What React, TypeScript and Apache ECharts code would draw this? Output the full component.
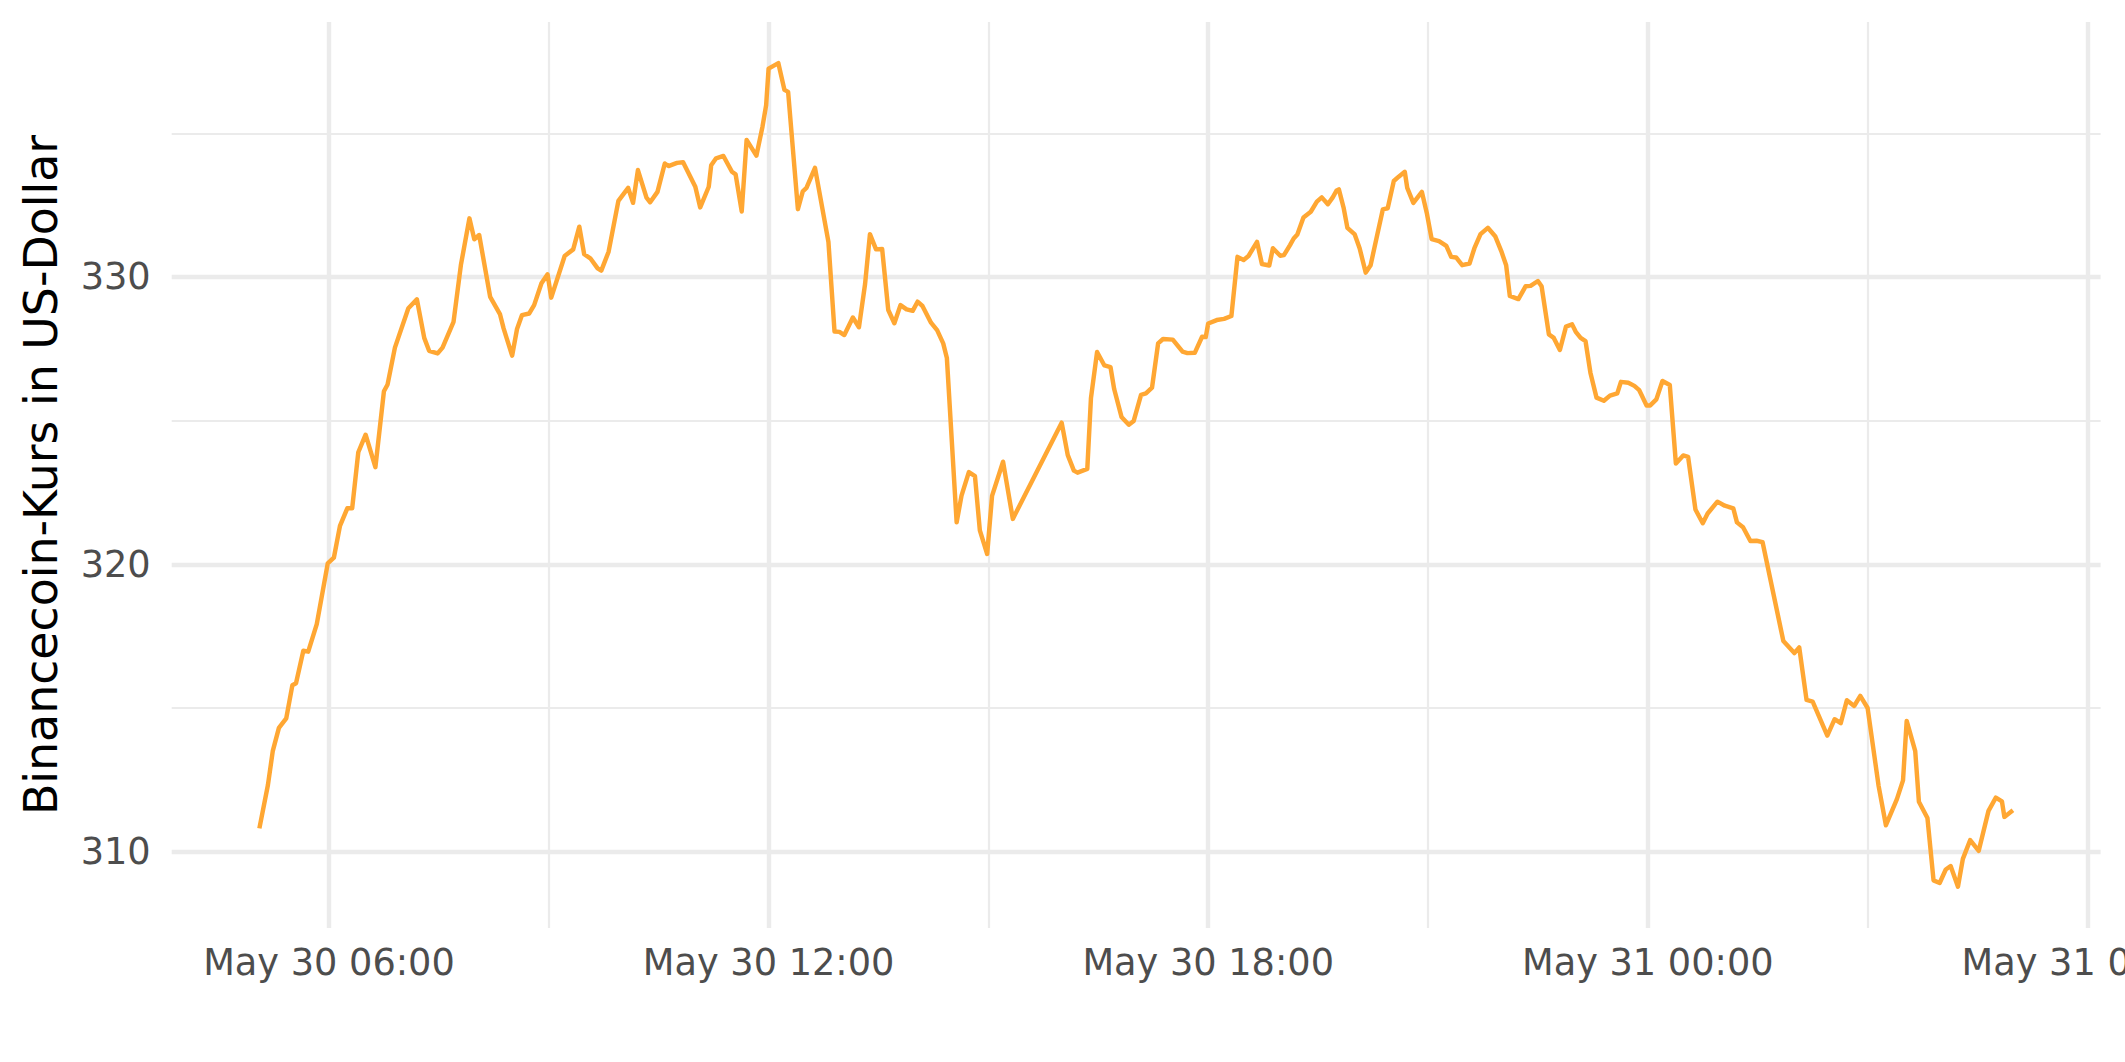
import React, { useEffect, useRef } from "react";
import * as echarts from "echarts";

// Binancecoin price, 5-minute-ish samples (UTC)
const times = [
  "05-30 05:03", "05-30 05:10", "05-30 05:14", "05-30 05:19", "05-30 05:25", "05-30 05:30", "05-30 05:33", "05-30 05:39",
  "05-30 05:43", "05-30 05:50", "05-30 05:59", "05-30 06:04", "05-30 06:09", "05-30 06:15", "05-30 06:19", "05-30 06:24",
  "05-30 06:30", "05-30 06:38", "05-30 06:45", "05-30 06:48", "05-30 06:54", "05-30 07:05", "05-30 07:12", "05-30 07:18",
  "05-30 07:22", "05-30 07:29", "05-30 07:33", "05-30 07:42", "05-30 07:48", "05-30 07:55", "05-30 07:59", "05-30 08:03",
  "05-30 08:12", "05-30 08:20", "05-30 08:23", "05-30 08:30", "05-30 08:34", "05-30 08:38", "05-30 08:44", "05-30 08:48",
  "05-30 08:54", "05-30 08:59", "05-30 09:02", "05-30 09:13", "05-30 09:20", "05-30 09:25", "05-30 09:29", "05-30 09:34",
  "05-30 09:40", "05-30 09:43", "05-30 09:49", "05-30 09:57", "05-30 10:05", "05-30 10:09", "05-30 10:13", "05-30 10:20",
  "05-30 10:23", "05-30 10:29", "05-30 10:35", "05-30 10:38", "05-30 10:45", "05-30 10:50", "05-30 11:00", "05-30 11:04",
  "05-30 11:11", "05-30 11:13", "05-30 11:17", "05-30 11:23", "05-30 11:30", "05-30 11:33", "05-30 11:38", "05-30 11:42",
  "05-30 11:50", "05-30 11:55", "05-30 11:58", "05-30 12:00", "05-30 12:08", "05-30 12:13", "05-30 12:16", "05-30 12:24",
  "05-30 12:28", "05-30 12:31", "05-30 12:38", "05-30 12:49", "05-30 12:54", "05-30 12:58", "05-30 13:02", "05-30 13:09",
  "05-30 13:14", "05-30 13:19", "05-30 13:23", "05-30 13:28", "05-30 13:33", "05-30 13:38", "05-30 13:43", "05-30 13:48",
  "05-30 13:53", "05-30 13:58", "05-30 14:02", "05-30 14:06", "05-30 14:13", "05-30 14:18", "05-30 14:23", "05-30 14:26",
  "05-30 14:34", "05-30 14:38", "05-30 14:44", "05-30 14:49", "05-30 14:53", "05-30 14:59", "05-30 15:03", "05-30 15:12",
  "05-30 15:20", "05-30 16:00", "05-30 16:05", "05-30 16:10", "05-30 16:13", "05-30 16:21", "05-30 16:24", "05-30 16:29",
  "05-30 16:35", "05-30 16:40", "05-30 16:43", "05-30 16:49", "05-30 16:55", "05-30 16:59", "05-30 17:05", "05-30 17:09",
  "05-30 17:14", "05-30 17:19", "05-30 17:23", "05-30 17:31", "05-30 17:39", "05-30 17:43", "05-30 17:49", "05-30 17:55",
  "05-30 17:58", "05-30 18:00", "05-30 18:07", "05-30 18:13", "05-30 18:19", "05-30 18:24", "05-30 18:29", "05-30 18:33",
  "05-30 18:40", "05-30 18:44", "05-30 18:50", "05-30 18:53", "05-30 18:59", "05-30 19:02", "05-30 19:07", "05-30 19:10",
  "05-30 19:13", "05-30 19:18", "05-30 19:24", "05-30 19:29", "05-30 19:33", "05-30 19:38", "05-30 19:42", "05-30 19:45",
  "05-30 19:47", "05-30 19:51", "05-30 19:54", "05-30 20:00", "05-30 20:04", "05-30 20:09", "05-30 20:13", "05-30 20:18",
  "05-30 20:23", "05-30 20:27", "05-30 20:32", "05-30 20:36", "05-30 20:41", "05-30 20:43", "05-30 20:48", "05-30 20:55",
  "05-30 20:59", "05-30 21:03", "05-30 21:09", "05-30 21:15", "05-30 21:19", "05-30 21:23", "05-30 21:28", "05-30 21:34",
  "05-30 21:38", "05-30 21:43", "05-30 21:49", "05-30 21:55", "05-30 22:00", "05-30 22:04", "05-30 22:07", "05-30 22:14",
  "05-30 22:20", "05-30 22:24", "05-30 22:30", "05-30 22:33", "05-30 22:39", "05-30 22:43", "05-30 22:48", "05-30 22:53",
  "05-30 22:58", "05-30 23:01", "05-30 23:05", "05-30 23:09", "05-30 23:13", "05-30 23:18", "05-30 23:24", "05-30 23:29",
  "05-30 23:35", "05-30 23:38", "05-30 23:44", "05-30 23:49", "05-30 23:53", "05-30 23:59", "05-31 00:02", "05-31 00:07",
  "05-31 00:12", "05-31 00:18", "05-31 00:23", "05-31 00:29", "05-31 00:33", "05-31 00:39", "05-31 00:45", "05-31 00:49",
  "05-31 00:57", "05-31 01:03", "05-31 01:10", "05-31 01:13", "05-31 01:18", "05-31 01:24", "05-31 01:29", "05-31 01:34",
  "05-31 01:51", "05-31 02:00", "05-31 02:04", "05-31 02:10", "05-31 02:15", "05-31 02:27", "05-31 02:33", "05-31 02:38",
  "05-31 02:43", "05-31 02:49", "05-31 02:54", "05-31 03:00", "05-31 03:09", "05-31 03:15", "05-31 03:24", "05-31 03:29",
  "05-31 03:32", "05-31 03:39", "05-31 03:42", "05-31 03:49", "05-31 03:54", "05-31 03:59", "05-31 04:04", "05-31 04:08",
  "05-31 04:14", "05-31 04:18", "05-31 04:24", "05-31 04:31", "05-31 04:39", "05-31 04:45", "05-31 04:50", "05-31 04:52",
  "05-31 04:59",
];

const prices = [
  310.81, 312.32, 313.51, 314.31, 314.64, 315.79, 315.86, 316.99,
  316.96, 317.92, 320.03, 320.23, 321.34, 321.95, 321.95, 323.9,
  324.51, 323.38, 326.02, 326.26, 327.54, 328.91, 329.22, 327.88,
  327.43, 327.34, 327.54, 328.44, 330.41, 332.04, 331.31, 331.46,
  329.31, 328.71, 328.21, 327.26, 328.19, 328.67, 328.73, 329.02,
  329.78, 330.09, 329.28, 330.73, 330.96, 331.75, 330.79, 330.65,
  330.3, 330.22, 330.88, 332.65, 333.1, 332.58, 333.72, 332.76,
  332.6, 332.96, 333.95, 333.86, 333.97, 333.99, 333.14, 332.42,
  333.14, 333.89, 334.13, 334.21, 333.66, 333.57, 332.28, 334.77,
  334.22, 335.23, 335.98, 337.25, 337.44, 336.51, 336.44, 332.36,
  332.98, 333.1, 333.8, 331.22, 328.1, 328.09, 327.98, 328.59,
  328.25, 329.75, 331.49, 330.96, 330.97, 328.85, 328.39, 329.02,
  328.87, 328.82, 329.14, 328.99, 328.41, 328.15, 327.69, 327.18,
  321.46, 322.39, 323.21, 323.07, 321.18, 320.36, 322.38, 323.57,
  321.58, 324.93, 323.8, 323.26, 323.19, 323.32, 325.79, 327.39,
  326.92, 326.86, 326.1, 325.13, 324.86, 324.99, 325.9, 325.95,
  326.15, 327.69, 327.84, 327.82, 327.4, 327.35, 327.36, 327.92,
  327.91, 328.38, 328.5, 328.54, 328.64, 330.7, 330.59, 330.73,
  331.22, 330.45, 330.4, 331.0, 330.74, 330.76, 331.11, 331.34,
  331.48, 332.07, 332.27, 332.62, 332.77, 332.53, 332.77, 333.0,
  333.05, 332.39, 331.71, 331.48, 331.0, 330.15, 330.41, 331.38,
  332.35, 332.39, 333.34, 333.49, 333.66, 333.1, 332.58, 332.96,
  332.23, 331.32, 331.25, 331.08, 330.7, 330.68, 330.41, 330.47,
  331.0, 331.49, 331.71, 331.42, 330.9, 330.41, 329.34, 329.23,
  329.68, 329.69, 329.86, 329.68, 328.0, 327.88, 327.46, 328.27,
  328.35, 328.09, 327.88, 327.77, 326.67, 325.8, 325.69, 325.87,
  325.95, 326.35, 326.32, 326.21, 326.06, 325.53, 325.53, 325.74,
  326.38, 326.24, 323.51, 323.79, 323.74, 321.91, 321.43, 321.77,
  322.18, 322.04, 321.95, 321.46, 321.29, 320.81, 320.82, 320.77,
  317.33, 316.91, 317.11, 315.28, 315.22, 314.04, 314.61, 314.47,
  315.27, 315.07, 315.42, 315.0, 312.29, 310.92, 311.83, 312.48,
  314.55, 313.5, 311.74, 311.17, 309.0, 308.91, 309.38, 309.5,
  308.78, 309.75, 310.4, 310.03, 311.42, 311.88, 311.75, 311.21,
  311.44,
];

const xMajorTicks = ["05-30 06:00", "05-30 12:00", "05-30 18:00", "05-31 00:00", "05-31 06:00"];
const xMinorTicks = ["05-30 09:00", "05-30 15:00", "05-30 21:00", "05-31 03:00"];
const yMajorTicks = [310, 320, 330];
const yMinorTicks = [315, 325, 335];
const yTitle = "Binancecoin-Kurs in US-Dollar";

const MONTHS = ["Jan", "Feb", "Mar", "Apr", "May", "Jun", "Jul", "Aug", "Sep", "Oct", "Nov", "Dec"];
const FONT = "DejaVu Sans";

function parseTime(s: string): number {
  const [md, hm] = s.split(" ");
  const [mo, d] = md.split("-").map(Number);
  const [h, mi] = hm.split(":").map(Number);
  return Date.UTC(2023, mo - 1, d, h, mi);
}
const pad = (n: number) => (n < 10 ? "0" + n : "" + n);
function fmtTime(v: number): string {
  const d = new Date(v);
  return `${MONTHS[d.getUTCMonth()]} ${d.getUTCDate()} ${pad(d.getUTCHours())}:${pad(d.getUTCMinutes())}`;
}

export default function App() {
  const ref = useRef<HTMLDivElement>(null);
  useEffect(() => {
    if (!ref.current) return;
    const chart = echarts.init(ref.current, null, { renderer: "svg" });
    const ts = times.map(parseTime);
    const data = ts.map((t, i) => [t, prices[i]]);
    const tMin = Math.min(...ts), tMax = Math.max(...ts);
    const tPad = (tMax - tMin) * 0.05;
    const pMin = Math.min(...prices), pMax = Math.max(...prices);
    const pPad = (pMax - pMin) * 0.05;
    const xMin = tMin - tPad, xMax = tMax + tPad;
    const yMin = pMin - pPad, yMax = pMax + pPad;
    const xMaj = xMajorTicks.map(parseTime);
    const xMin2 = xMinorTicks.map(parseTime);

    const option: any = {
      animation: false,
      backgroundColor: "#ffffff",
      grid: {
        left: 171.7, right: 24.4, top: 22, bottom: 134.1,
        containLabel: false, outerBoundsMode: "none",
      },
      xAxis: [
        {
          type: "value", min: xMin, max: xMax, position: "bottom",
          axisLine: { show: false },
          axisTick: { show: false, customValues: xMaj },
          axisLabel: {
            customValues: xMaj, formatter: (v: number) => fmtTime(v),
            color: "#4D4D4D", fontSize: 36.7, fontFamily: FONT, margin: 16,
          },
          splitLine: { show: true, lineStyle: { color: "#EBEBEB", width: 4.45 } },
        },
        {
          type: "value", min: xMin, max: xMax, position: "bottom",
          axisLine: { show: false },
          axisTick: { show: false, customValues: xMin2 },
          axisLabel: { show: false },
          splitLine: { show: true, lineStyle: { color: "#EBEBEB", width: 2.2 } },
        },
      ],
      yAxis: [
        {
          type: "value", min: yMin, max: yMax, position: "left",
          axisLine: { show: false },
          axisTick: { show: false, customValues: yMajorTicks },
          axisLabel: {
            customValues: yMajorTicks, formatter: (v: number) => String(Math.round(v)),
            color: "#4D4D4D", fontSize: 36.7, fontFamily: FONT, margin: 21,
          },
          splitLine: { show: true, lineStyle: { color: "#EBEBEB", width: 4.45 } },
        },
        {
          type: "value", min: yMin, max: yMax, position: "left",
          axisLine: { show: false },
          axisTick: { show: false, customValues: yMinorTicks },
          axisLabel: { show: false },
          splitLine: { show: true, lineStyle: { color: "#EBEBEB", width: 2.2 } },
        },
      ],
      graphic: [
        {
          type: "text", x: 40.6, y: 475, rotation: Math.PI / 2,
          style: {
            text: yTitle, fill: "#000000", font: `45.8px '${FONT}'`,
            align: "center", verticalAlign: "middle",
          },
        },
      ],
      series: [
        {
          type: "line", xAxisIndex: 0, yAxisIndex: 0, data,
          showSymbol: false, symbol: "none", z: 5,
          lineStyle: { color: "#FFA733", width: 4.45, join: "round", cap: "butt" },
        },
      ],
    };
    chart.setOption(option);
    return () => chart.dispose();
  }, []);
  return (
    <div
      ref={ref}
      style={{ position: "fixed", left: 0, top: 0, width: 2125, height: 1062, background: "#ffffff" }}
    />
  );
}
